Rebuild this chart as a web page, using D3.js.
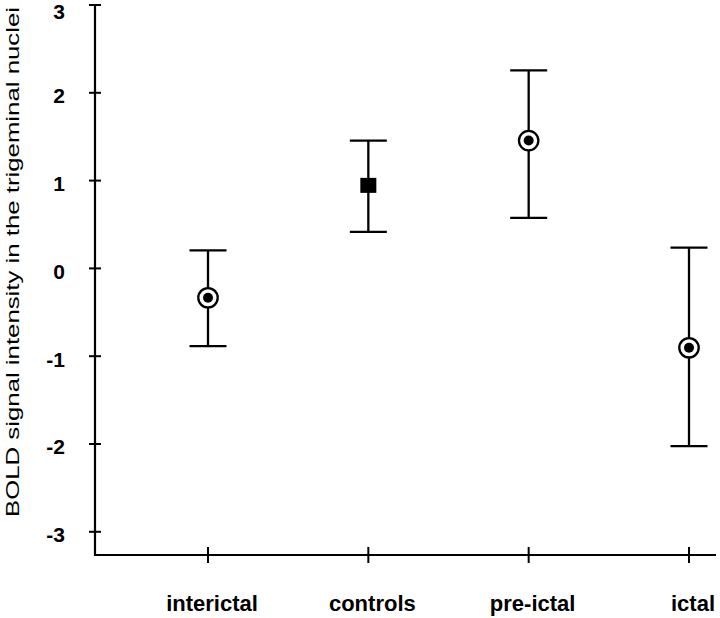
<!DOCTYPE html>
<html>
<head>
<meta charset="utf-8">
<script src="https://cdn.jsdelivr.net/npm/d3@7"></script>
<style>
  body { margin: 0; background: #fff; }
  svg { display: block; font-family: "Liberation Sans", Arial, sans-serif; }
</style>
</head>
<body>
<div id="chart"></div>
<script>
// data
var groups = ["interictal", "controls", "pre-ictal", "ictal"];
var means  = [-0.34, 0.94, 1.45, -0.91];
var upper  = [0.20, 1.45, 2.25, 0.23];
var lower  = [-0.89, 0.41, 0.57, -2.03];
var marker = ["ring", "square", "ring", "ring"];
var yTicks = [3, 2, 1, 0, -1, -2, -3];
var yTitle = "BOLD signal intensity in the trigeminal nuclei";

var width = 720, height = 618;
var axisX = 95, axisY = 555, axisRight = 716;

var svg = d3.select("#chart").append("svg")
    .attr("width", width)
    .attr("height", height);

var y = d3.scaleLinear().domain([-3.27, 3]).range([axisY, 4.5]);
var x = d3.scalePoint().domain(groups).range([208, 689]);

// y axis
var yAxis = svg.append("g")
    .attr("transform", "translate(" + axisX + ",0)")
    .call(d3.axisLeft(y).tickValues(yTicks).tickSize(6).tickPadding(24)
        .tickFormat(function(d) { return String(d); }));
yAxis.select(".domain").remove();
yAxis.selectAll(".tick line").attr("stroke", "#000").attr("stroke-width", 2);
yAxis.selectAll(".tick").append("line")
    .attr("x1", 0).attr("x2", 6)
    .attr("stroke", "#000").attr("stroke-width", 2);
yAxis.selectAll(".tick text")
    .attr("y", function(d) { return Math.max(2, 10 - y(d)); })
    .attr("dy", "0.4em")
    .style("font-size", "21px")
    .style("font-weight", "bold")
    .attr("fill", "#000");

svg.append("line")
    .attr("x1", axisX).attr("x2", axisX)
    .attr("y1", y(3)).attr("y2", axisY + 1)
    .attr("stroke", "#000").attr("stroke-width", 2.2);

// x axis
svg.append("line")
    .attr("x1", axisX - 1).attr("x2", axisRight)
    .attr("y1", axisY).attr("y2", axisY)
    .attr("stroke", "#000").attr("stroke-width", 2.2);

var xt = svg.append("g").selectAll("g")
    .data(groups)
    .enter().append("g")
    .attr("transform", function(d) { return "translate(" + x(d) + "," + axisY + ")"; });
xt.append("line")
    .attr("y1", -8).attr("y2", 8)
    .attr("stroke", "#000").attr("stroke-width", 2);
xt.append("text")
    .attr("x", 4).attr("y", 56)
    .attr("text-anchor", "middle")
    .style("font-size", "22px")
    .style("font-weight", "bold")
    .attr("fill", "#000")
    .text(function(d) { return d; });

// y title
svg.append("text")
    .attr("transform", "translate(18.5," + 262 + ") rotate(-90)")
    .attr("text-anchor", "middle")
    .attr("textLength", 510)
    .attr("lengthAdjust", "spacingAndGlyphs")
    .style("font-size", "19px")
    .attr("fill", "#000")
    .text(yTitle);

// error bars
var rows = groups.map(function(g, i) {
    return { g: g, m: means[i], hi: upper[i], lo: lower[i], mk: marker[i] };
});

var bars = svg.append("g").selectAll("g")
    .data(rows)
    .enter().append("g")
    .attr("transform", function(d) { return "translate(" + x(d.g) + ",0)"; });

bars.append("line")
    .attr("y1", function(d) { return y(d.hi); })
    .attr("y2", function(d) { return y(d.lo); })
    .attr("stroke", "#000").attr("stroke-width", 2.3);
bars.append("line")
    .attr("x1", -18.5).attr("x2", 18.5)
    .attr("y1", function(d) { return y(d.hi); })
    .attr("y2", function(d) { return y(d.hi); })
    .attr("stroke", "#000").attr("stroke-width", 2.3);
bars.append("line")
    .attr("x1", -18.5).attr("x2", 18.5)
    .attr("y1", function(d) { return y(d.lo); })
    .attr("y2", function(d) { return y(d.lo); })
    .attr("stroke", "#000").attr("stroke-width", 2.3);

var rings = bars.filter(function(d) { return d.mk == "ring"; });
rings.append("circle")
    .attr("cy", function(d) { return y(d.m); })
    .attr("r", 9.7)
    .attr("fill", "#fff")
    .attr("stroke", "#000").attr("stroke-width", 2.3);
rings.append("circle")
    .attr("cy", function(d) { return y(d.m); })
    .attr("r", 5)
    .attr("fill", "#000");

bars.filter(function(d) { return d.mk == "square"; })
    .append("rect")
    .attr("x", -8)
    .attr("y", function(d) { return y(d.m) - 7.5; })
    .attr("width", 16).attr("height", 15)
    .attr("fill", "#000");
</script>
</body>
</html>
